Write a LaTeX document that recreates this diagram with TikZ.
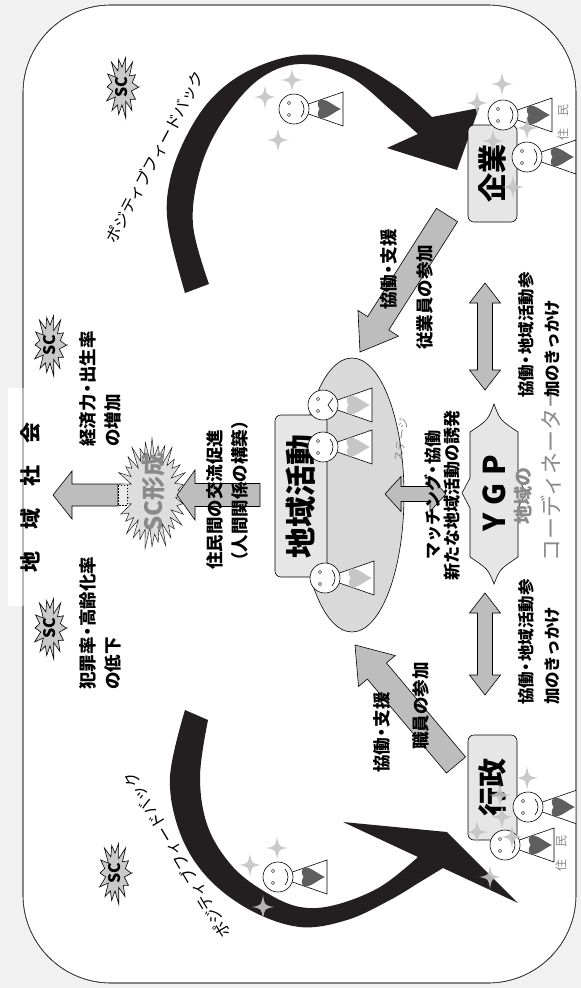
\documentclass[tikz,border=0pt]{standalone}
\usepackage{fontspec}
\setmainfont{Noto Sans CJK JP}
\usetikzlibrary{calc}

\definecolor{ink}{HTML}{231F20}
\definecolor{pagegray}{HTML}{F1F1F1}
\definecolor{boxgray}{HTML}{E6E6E6}
\definecolor{stagegray}{HTML}{D9D9D9}
\definecolor{arrowgray}{HTML}{BDBDBD}
\definecolor{burstgray}{HTML}{C9C9C9}
\definecolor{glowgray}{HTML}{DDDDDD}
\definecolor{sparkgray}{HTML}{C4C4C4}
\definecolor{heartdark}{HTML}{5E5E5E}
\definecolor{heartlight}{HTML}{C6C6C6}
\definecolor{textgray}{HTML}{8A8A8A}

\tikzset{
  outline/.style={draw=black,line width=0.6pt},
  frame/.style={draw=black!80,line width=0.6pt,rounded corners=88pt},
  arrowbox/.style={outline,fill=arrowgray},
  sidebox/.style={outline,fill=boxgray,rounded corners=6pt,rotate=90,inner sep=0pt,
    font=\bfseries\fontsize{29}{32}\selectfont},
  vlabel/.style={rotate=90,inner sep=0pt,font=\bfseries\fontsize{17.5}{25}\selectfont},
  smalllabel/.style={rotate=90,inner sep=0pt,font=\bfseries\fontsize{16.5}{26}\selectfont},
  graylabel/.style={rotate=90,inner sep=0pt,text=textgray},
  sctag/.style={rotate=90,inner sep=0pt,font=\bfseries\fontsize{16}{16}\selectfont},
  feedback/.style={inner sep=0pt,font=\fontsize{16}{16}\selectfont},
}

% narrow middle dot
\newcommand\nakaguro{\kern-0.2em・\kern-0.2em}

% four point sparkle
\newcommand\sparkle[2]{%
  \fill[sparkgray,opacity=0.9,shift={(#1,#2)}] (0,-12) .. controls (1.6,-1.6) .. (11,0)
    .. controls (1.6,1.6) .. (0,12) .. controls (-1.6,1.6) .. (-11,0)
    .. controls (-1.6,-1.6) .. (0,-12) -- cycle;}

% starburst: x, y, rx, ry, vertices, depth, style
\newcommand\burst[7]{%
  \filldraw[#7,shift={(#1,#2)}] (#3,0)
    \foreach \k in {1,...,#5}
      { -- ({#3*(1-#6*mod(\k,2)-0.06*mod(\k,3))*cos(\k*(360/#5))},{#4*(1-#6*mod(\k,2)-0.06*mod(\k,3))*sin(\k*(360/#5))}) }
    -- cycle;}

% mouths
\newcommand\smilemouth{(7,-8) .. controls (11,-3) and (11,3) .. (7,8)}
\newcommand\sadmouth{(10,-7) -- (5,0) -- (10,7)}

% lying person: face x, face y, heart colour, mouth
\newcommand\person[4]{%
  \begin{scope}[shift={(#1,#2)}]
    \filldraw[outline,fill=white] (0,0) -- (49,-17) -- (49,17) -- cycle;
    \fill[#3] (47,0) .. controls (40,-3) and (33,-9.5) .. (28,-9.5)
      .. controls (24,-9.5) and (22,-5) .. (25.5,0)
      .. controls (22,5) and (24,9.5) .. (28,9.5)
      .. controls (33,9.5) and (40,3) .. (47,0) -- cycle;
    \filldraw[outline,fill=white] (0,0) circle[radius=15];
    \draw[line width=0.4pt] (-5,-6) circle[radius=1.7] (-5,6) circle[radius=1.7];
    \draw[outline] #4;
  \end{scope}}

% block arrow: tail, tip, half shaft, half head, head length
\newcommand\blockarrow[5]{%
  \path ($(#2)!#5!(#1)$) coordinate (ah);
  \filldraw[arrowbox] ($(#1)!#3!90:(#2)$) -- ($(ah)!#3!90:(#2)$) -- ($(ah)!#4!90:(#2)$)
    -- (#2) -- ($(ah)!#4!-90:(#2)$) -- ($(ah)!#3!-90:(#2)$) -- ($(#1)!#3!-90:(#2)$) -- cycle;}

% double headed block arrow
\newcommand\dblarrow[5]{%
  \path ($(#1)!#5!(#2)$) coordinate (ha) ($(#2)!#5!(#1)$) coordinate (hb);
  \filldraw[arrowbox] (#1) -- ($(ha)!#4!90:(#2)$) -- ($(ha)!#3!90:(#2)$)
    -- ($(hb)!#3!-90:(#1)$) -- ($(hb)!#4!-90:(#1)$) -- (#2)
    -- ($(hb)!#4!90:(#1)$) -- ($(hb)!#3!90:(#1)$)
    -- ($(ha)!#3!-90:(#2)$) -- ($(ha)!#4!-90:(#2)$) -- cycle;}

\begin{document}
\begin{tikzpicture}[x=1pt,y=-1pt]
\useasboundingbox (0,0) rectangle (581,988);
\fill[pagegray] (0,0) rectangle (581,988);
\filldraw[frame,fill=white] (23,5) rectangle (576,983);

% title over the frame
\node[rotate=90,fill=white,minimum width=218pt,minimum height=46pt,
  font=\bfseries\fontsize{21}{25}\selectfont] (society) at (31,497)
  {地\hspace{22pt}域\hspace{22pt}社\hspace{22pt}会};

% positive feedback strokes
\fill[ink] plot[smooth,tension=0.6] coordinates {(185,293) (168,225) (170,180) (187,135)
    (213,97) (250,70) (300,55) (350,61) (397,87) (432,117)}
  -- (479,108) -- (457,170) -- (387,148) -- (418,134)
  -- plot[smooth,tension=0.6] coordinates {(418,134) (392,111) (350,77) (300,64) (258,80)
    (222,122) (200,170) (193,225) (209,284)} -- cycle;
\fill[ink] plot[smooth,tension=0.6] coordinates {(208,720) (200,777) (208,827) (233,867)
    (267,893) (300,907) (335,905) (380,887) (418,857)}
  -- (343,822) -- (447,832) -- (518,903) -- (443,868)
  -- plot[smooth,tension=0.6] coordinates {(443,868) (420,882) (390,900) (347,920) (300,927)
    (250,910) (207,877) (180,833) (170,777) (185,710)} -- cycle;
\node[feedback,rotate=62] (fbTop) at (155,157) {ポジティブフィードバック};
\node[feedback,rotate=121] (fbBottom) at (177,855) {ポジティブフィードバック};

% SC marks
\burst{122}{87}{17}{32}{28}{0.38}{outline,fill=burstgray}
\node[sctag] (scA) at (122,87) {SC};
\burst{50}{345}{17}{32}{28}{0.38}{outline,fill=burstgray}
\node[sctag] (scB) at (50,345) {SC};
\burst{50}{628}{17}{32}{28}{0.38}{outline,fill=burstgray}
\node[sctag] (scC) at (50,628) {SC};
\burst{115}{873}{17}{32}{28}{0.38}{outline,fill=burstgray}
\node[sctag] (scD) at (115,873) {SC};

\node[vlabel,align=left,anchor=north west] (economy) at (79,447) {経済力\nakaguro 出生率\\の増加};
\node[vlabel,align=left,anchor=north west] (crime) at (79,690) {犯罪率\nakaguro 高齢化率\\の低下};

% SC formation
\burst{152}{494}{36}{56}{64}{0.28}{fill=glowgray}
\coordinate (socTail) at (118,495);
\coordinate (socTip) at (53,495);
\blockarrow{socTail}{socTip}{11pt}{24pt}{19pt}
\filldraw[fill=white!70!arrowgray,draw=black,line width=0.5pt,dash pattern=on 1.5pt off 1.5pt]
  (118,485) rectangle (127,505);
\coordinate (actTail) at (260,495);
\coordinate (actTip) at (177,495);
\blockarrow{actTail}{actTip}{11.5pt}{25pt}{18pt}
\node[rotate=90,inner sep=0pt,text=textgray,font=\bfseries\fontsize{24}{24}\selectfont]
  (scForm) at (153,492) {SC形成};
\node[vlabel,align=left,anchor=north west] (exchange) at (206,570)
  {住民間の交流促進\\（人間関係の構築）};

% stage
\filldraw[outline,fill=stagegray] (352,495) ellipse[x radius=52,y radius=137];
\node[graylabel,rotate=-8,font=\fontsize{11}{11}\selectfont] (stage) at (401,440) {ステージ};
\node[sidebox,minimum width=162pt,minimum height=52pt,font=\bfseries\fontsize{31}{32}\selectfont]
  (activity) at (301,496) {地域活動};
\person{323}{405}{heartlight}{\sadmouth}
\person{323}{447}{heartlight}{\smilemouth}
\person{325}{578}{heartlight}{\smilemouth}

% firms and government
\node[sidebox,minimum width=97pt,minimum height=49pt] (firm) at (492.5,173.5) {企業};
\node[sidebox,minimum width=105pt,minimum height=49pt] (gov) at (492.5,787.5) {行政};

\coordinate (firmTail) at (447,215);
\coordinate (firmTip) at (360,352);
\blockarrow{firmTail}{firmTip}{12.5pt}{24pt}{34pt}
\coordinate (govTail) at (456,765);
\coordinate (govTip) at (355,645);
\blockarrow{govTail}{govTip}{12.5pt}{24pt}{34pt}
\node[vlabel,anchor=west] (supportF) at (389,310) {協働\nakaguro 支援};
\node[vlabel,anchor=west] (staffF) at (425,350) {従業員の参加};
\node[vlabel,anchor=west] (supportG) at (382,773) {協働\nakaguro 支援};
\node[vlabel,anchor=west] (staffG) at (421,750) {職員の参加};

% YGP
\filldraw[outline,fill=boxgray] (494,404) .. controls (488,420) .. (470,432) -- (470,478)
  -- (462,493) -- (470,508) -- (470,557) .. controls (488,569) .. (494,584)
  .. controls (500,569) .. (518,557) -- (518,508) -- (526,493) -- (518,478) -- (518,432)
  .. controls (500,420) .. (494,404) -- cycle;
\node[rotate=90,inner sep=0pt,font=\bfseries\fontsize{30}{30}\selectfont] (ygp) at (494,493)
  {Y\hspace{8pt}G\hspace{8pt}P};
\node[graylabel,font=\bfseries\fontsize{19}{19}\selectfont] (area) at (523,496) {地域の};
\node[graylabel,font=\fontsize{22}{22}\selectfont] (coord) at (551,474) {コーディネーター};

\coordinate (stageEnd) at (385,494);
\coordinate (ygpEnd) at (446,494);
\dblarrow{stageEnd}{ygpEnd}{7.5pt}{17.5pt}{16pt}
\coordinate (firmEnd) at (485,283);
\coordinate (ygpTop) at (485,390);
\dblarrow{firmEnd}{ygpTop}{7.5pt}{15.5pt}{20pt}
\coordinate (ygpBottom) at (485,593);
\coordinate (govEnd) at (485,695);
\dblarrow{ygpBottom}{govEnd}{7.5pt}{15.5pt}{20pt}

\node[vlabel,align=center,font=\bfseries\fontsize{17}{19}\selectfont] (matching) at (442,495)
  {マッチング\nakaguro 協働\\新たな地域活動の誘発};
\node[smalllabel,align=left,anchor=north west] (triggerTop) at (518,398)
  {協働\nakaguro 地域活動参\\加のきっかけ};
\node[smalllabel,align=left,anchor=north west] (triggerBottom) at (518,705)
  {協働\nakaguro 地域活動参\\加のきっかけ};

% residents
\begin{scope}
  \clip[rounded corners=88pt] (23,5) rectangle (576,983);
  \person{294}{109}{heartdark}{\smilemouth}
  \person{503}{115}{heartdark}{\smilemouth}
  \person{527}{157}{heartdark}{\smilemouth}
  \person{528}{807}{heartdark}{\smilemouth}
  \person{505}{845}{heartdark}{\smilemouth}
  \person{278}{877}{heartdark}{\smilemouth}
\end{scope}
\node[graylabel,font=\fontsize{12}{12}\selectfont] (residentsF) at (563,122) {住\hspace{12pt}民};
\node[graylabel,font=\fontsize{12}{12}\selectfont] (residentsG) at (561,853) {住\hspace{12pt}民};

% sparkles
\foreach \sx/\sy in {292/80,265/97,278/140,502/84,477/103,527/128,493/141,513/187,
    527/778,500/795,502/817,477/832,512/837,490/877,277/848,250/865,263/907}
  {\sparkle{\sx}{\sy}}

\draw[frame] (23,5) rectangle (576,983);
\end{tikzpicture}
\end{document}
